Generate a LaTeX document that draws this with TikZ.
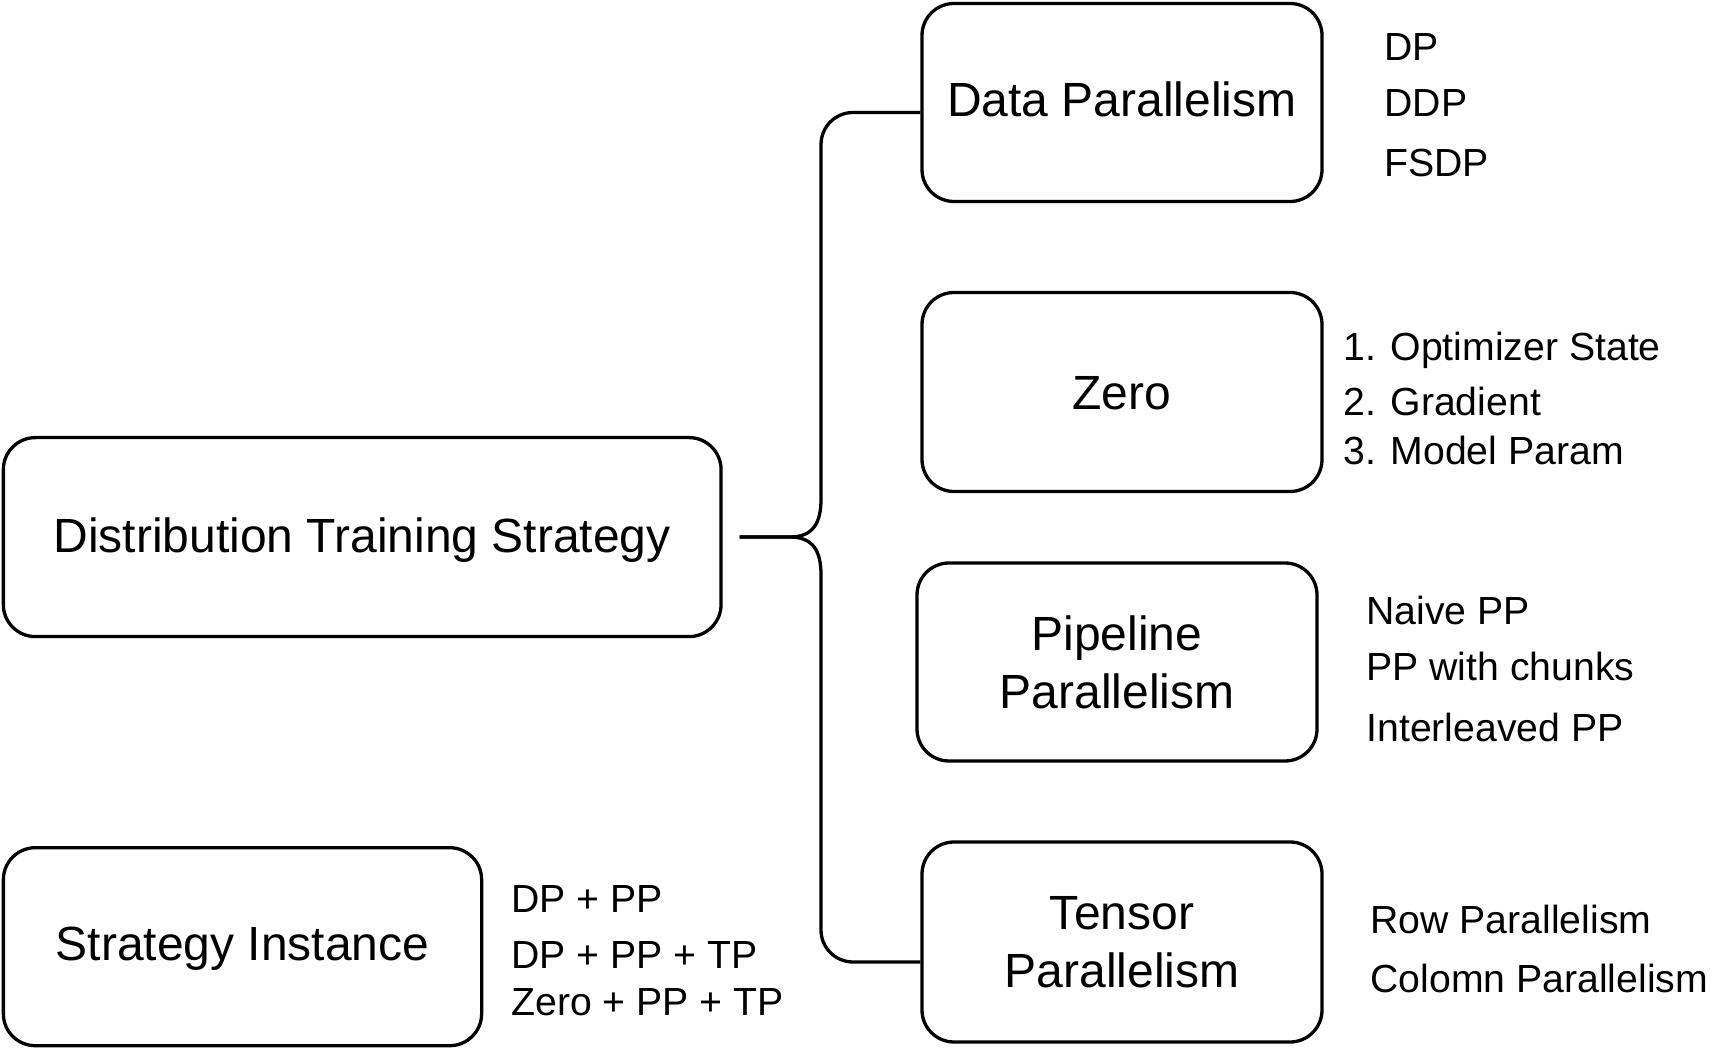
\documentclass[tikz,border=0pt]{standalone}
\usepackage{fontspec}
\setmainfont{Liberation Sans}
\usetikzlibrary{calc}
\begin{document}
\begin{tikzpicture}[x=0.5pt,y=-0.5pt,
  box/.style={draw, line width=1.65pt, rounded corners=16pt, inner sep=0pt,
    align=center, font=\fontsize{24}{29}\selectfont},
  onel/.style={text height=17.2pt, text depth=#1},
  side/.style={anchor=base west, inner sep=0pt, font=\fontsize{19.6}{24}\selectfont},
  link/.style={line width=1.65pt}]
\fill[white] (0,0) rectangle (1724,1052);
\useasboundingbox (0,0) rectangle (1724,1052);

% boxes
\node[box, onel=1.5pt, minimum width=358.85pt, minimum height=99.5pt] (dts) at (362.2,537.1) {Distribution Training Strategy};
\node[box, onel=3pt, minimum width=239.15pt, minimum height=99pt] (si) at (242.5,946.7) {Strategy Instance};
\node[box, onel=3pt, minimum width=200pt, minimum height=99pt] (dp) at (1122,102.5) {Data Parallelism};
\node[box, onel=0pt, minimum width=200pt, minimum height=99.5pt] (zero) at (1122,392) {Zero};
\node[box, minimum width=200pt, minimum height=99pt] (pp) at (1117,662) {Pipeline\\Parallelism};
\node[box, minimum width=200pt, minimum height=100pt] (tp) at (1122,942) {Tensor\\Parallelism};

% side texts
\node[side] (t1) at (1384,61) {DP};
\node[side] (t2) at (1384,116.5) {DDP};
\node[side] (t3) at (1384,176.5) {FSDP};
\node[side] (z1) at (1343,361) {1. Optimizer State};
\node[side] (z2) at (1343,416) {2. Gradient};
\node[side] (z3) at (1343,465) {3. Model Param};
\node[side] (p1) at (1366,625) {Naive PP};
\node[side] (p2) at (1366,681) {PP with chunks};
\node[side] (p3) at (1366,741) {Interleaved PP};
\node[side] (r1) at (1370,933) {Row Parallelism};
\node[side] (r2) at (1370,992) {Colomn Parallelism};
\node[side] (s1) at (511,912) {DP + PP};
\node[side] (s2) at (511,968) {DP + PP + TP};
\node[side] (s3) at (511,1015) {Zero + PP + TP};

% connectors
\coordinate (s) at ($(dts.east)+(17,0)$);
\coordinate (dpj) at ($(dp.west)+(0,10)$);
\coordinate (tpj) at ($(tp.west)+(0,20)$);
\draw[link] (s) -- (790,537) .. controls (813,537) and (821,523) .. (821,499)
  [rounded corners=16pt] |- (dpj);
\draw[link] (s) -- (790,537) .. controls (813,537) and (821,551) .. (821,575)
  [rounded corners=16pt] |- (tpj);
\end{tikzpicture}
\end{document}
